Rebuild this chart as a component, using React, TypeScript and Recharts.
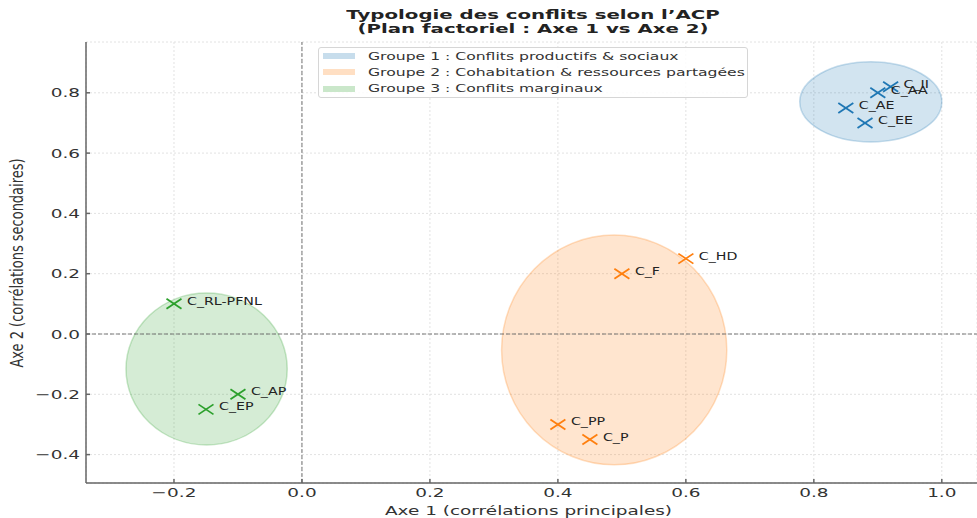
import React from "react";
import {
  ScatterChart,
  Scatter,
  XAxis,
  YAxis,
  CartesianGrid,
  ReferenceLine,
  ReferenceArea,
  Legend,
} from "recharts";

const GROUP_NAMES = [
  "Groupe 1 : Conflits productifs & sociaux",
  "Groupe 2 : Cohabitation & ressources partagées",
  "Groupe 3 : Conflits marginaux",
];
const GROUP_COLORS = ["#1f77b4", "#ff7f0e", "#2ca02c"];

const G1_LABELS = ["C_II", "C_AA", "C_AE", "C_EE"];
const G1_X = [0.92, 0.9, 0.85, 0.88];
const G1_Y = [0.82, 0.8, 0.75, 0.7];

const G2_LABELS = ["C_HD", "C_F", "C_PP", "C_P"];
const G2_X = [0.6, 0.5, 0.4, 0.45];
const G2_Y = [0.25, 0.2, -0.3, -0.35];

const G3_LABELS = ["C_RL-PFNL", "C_AP", "C_EP"];
const G3_X = [-0.2, -0.1, -0.15];
const G3_Y = [0.1, -0.2, -0.25];

// group ellipses: centre and half-axes
const ELL_CX = [0.889, 0.488, -0.149];
const ELL_CY = [0.77, -0.053, -0.116];
const ELL_RX = [0.111, 0.176, 0.126];
const ELL_RY = [0.133, 0.381, 0.252];

const X_TICKS = [-0.2, 0, 0.2, 0.4, 0.6, 0.8, 1.0];
const Y_TICKS = [-0.4, -0.2, 0, 0.2, 0.4, 0.6, 0.8];

const FONT = "'DejaVu Sans', sans-serif";
const SX = 1.42; // the picture is stretched sideways

const toPoints = (labels: string[], xs: number[], ys: number[]) =>
  labels.map((name, i) => ({ name, x: xs[i], y: ys[i] }));

const groups = [
  toPoints(G1_LABELS, G1_X, G1_Y),
  toPoints(G2_LABELS, G2_X, G2_Y),
  toPoints(G3_LABELS, G3_X, G3_Y),
];

const fmt = (v: number) => v.toFixed(1).replace("-", "\u2212");

const XTick = (props: any) => {
  const { x, y, payload } = props;
  return (
    <text
      transform={`translate(${x},${y}) scale(${SX},1)`}
      textAnchor="middle"
      dy="0.71em"
      fontSize={13}
      fontFamily={FONT}
      fill="#333"
    >
      {fmt(payload.value)}
    </text>
  );
};

const YTick = (props: any) => {
  const { x, y, payload } = props;
  return (
    <text
      transform={`translate(${x},${y}) scale(${SX},1)`}
      textAnchor="end"
      dy="0.36em"
      fontSize={13}
      fontFamily={FONT}
      fill="#333"
    >
      {fmt(payload.value)}
    </text>
  );
};

const makeCross = (color: string) => (props: any) => {
  const { cx, cy, payload } = props;
  return (
    <g>
      <line x1={cx - 7.5} y1={cy - 5} x2={cx + 7.5} y2={cy + 5} stroke={color} strokeWidth={1.8} />
      <line x1={cx - 7.5} y1={cy + 5} x2={cx + 7.5} y2={cy - 5} stroke={color} strokeWidth={1.8} />
      <text
        transform={`translate(${cx + 13},${cy + 1}) scale(${SX},1)`}
        fontSize={10}
        fontFamily={FONT}
        fill="#222"
      >
        {payload.name}
      </text>
    </g>
  );
};

const makeEllipse = (color: string) => (props: any) => {
  const { x, y, width, height } = props;
  return (
    <ellipse
      cx={x + width / 2}
      cy={y + height / 2}
      rx={Math.abs(width) / 2}
      ry={Math.abs(height) / 2}
      fill={color}
      fillOpacity={0.2}
      stroke={color}
      strokeOpacity={0.25}
      strokeWidth={1.5}
    />
  );
};

const renderLegend = (props: any) => {
  const { payload } = props;
  return (
    <div
      style={{
        width: 428,
        height: 49,
        border: "1px solid #d6d6d6",
        borderRadius: 3,
        background: "rgba(255,255,255,0.85)",
        fontFamily: FONT,
        fontSize: 11,
        color: "#333",
      }}
    >
      {(payload || []).map((entry: any) => (
        <div key={entry.value} style={{ height: 16.3, display: "flex", alignItems: "center" }}>
          <span
            style={{
              display: "inline-block",
              marginLeft: 4,
              width: 32,
              height: 6,
              background: entry.color,
              opacity: 0.25,
            }}
          />
          <span
            style={{
              display: "inline-block",
              marginLeft: 13,
              whiteSpace: "nowrap",
              transform: `scaleX(${SX})`,
              transformOrigin: "0 50%",
            }}
          >
            {entry.value}
          </span>
        </div>
      ))}
    </div>
  );
};

export default function App() {
  return (
    <div
      style={{
        position: "fixed",
        left: 0,
        top: 0,
        width: 977,
        height: 518,
        overflow: "hidden",
        background: "#fff",
      }}
    >
      <div
        style={{
          position: "absolute",
          left: 283,
          top: 8,
          width: 500,
          textAlign: "center",
          fontFamily: FONT,
          fontWeight: "bold",
          fontSize: 13,
          lineHeight: "13.5px",
          color: "#222",
          transform: "scaleX(1.52)",
          transformOrigin: "250px 0",
          zIndex: 2,
        }}
      >
        Typologie des conflits selon l’ACP
        <br />
        (Plan factoriel : Axe 1 vs Axe 2)
      </div>
      <ScatterChart width={977} height={518} margin={{ top: 42, right: 0, bottom: 0, left: 0 }}>
        <CartesianGrid stroke="#e2e2e2" strokeDasharray="2 2" />
        {GROUP_COLORS.map((c, i) => (
          <ReferenceArea
            key={`ell-${i}`}
            x1={ELL_CX[i] - ELL_RX[i]}
            x2={ELL_CX[i] + ELL_RX[i]}
            y1={ELL_CY[i] - ELL_RY[i]}
            y2={ELL_CY[i] + ELL_RY[i]}
            shape={makeEllipse(c)}
          />
        ))}
        <ReferenceLine x={0} stroke="#666" strokeDasharray="4 2" strokeWidth={0.9} />
        <ReferenceLine y={0} stroke="#666" strokeDasharray="4 2" strokeWidth={0.9} />
        <XAxis
          type="number"
          dataKey="x"
          domain={[-0.3375, 1.055]}
          allowDataOverflow
          ticks={X_TICKS}
          height={35}
          stroke="#666"
          strokeWidth={1.5}
          tickSize={-4}
          tickMargin={9}
          tick={<XTick />}
          label={{
            content: (p: any) => {
              const vb = p.viewBox || { x: 86, width: 891 };
              const cx = vb.x + vb.width / 2 - 3;
              return (
                <text
                  transform={`translate(${cx},515) scale(${SX},1)`}
                  textAnchor="middle"
                  fontSize={13}
                  fontFamily={FONT}
                  fill="#333"
                >
                  Axe 1 (corrélations principales)
                </text>
              );
            },
          }}
        />
        <YAxis
          type="number"
          dataKey="y"
          domain={[-0.4942, 0.9685]}
          allowDataOverflow
          ticks={Y_TICKS}
          width={86}
          stroke="#666"
          strokeWidth={1.5}
          tickSize={-4}
          tickMargin={10}
          tick={<YTick />}
          label={{
            content: () => (
              <text
                transform={`translate(23,263) scale(${SX},1) rotate(-90)`}
                textAnchor="middle"
                fontSize={13}
                fontFamily={FONT}
                fill="#333"
              >
                Axe 2 (corrélations secondaires)
              </text>
            ),
          }}
        />
        {groups.map((pts, i) => (
          <Scatter
            key={GROUP_NAMES[i]}
            name={GROUP_NAMES[i]}
            data={pts}
            fill={GROUP_COLORS[i]}
            shape={makeCross(GROUP_COLORS[i])}
            isAnimationActive={false}
          />
        ))}
        <Legend
          layout="horizontal"
          verticalAlign="middle"
          align="center"
          content={renderLegend}
          wrapperStyle={{ top: 47, left: 318, width: 430, height: 51 }}
        />
      </ScatterChart>
    </div>
  );
}
